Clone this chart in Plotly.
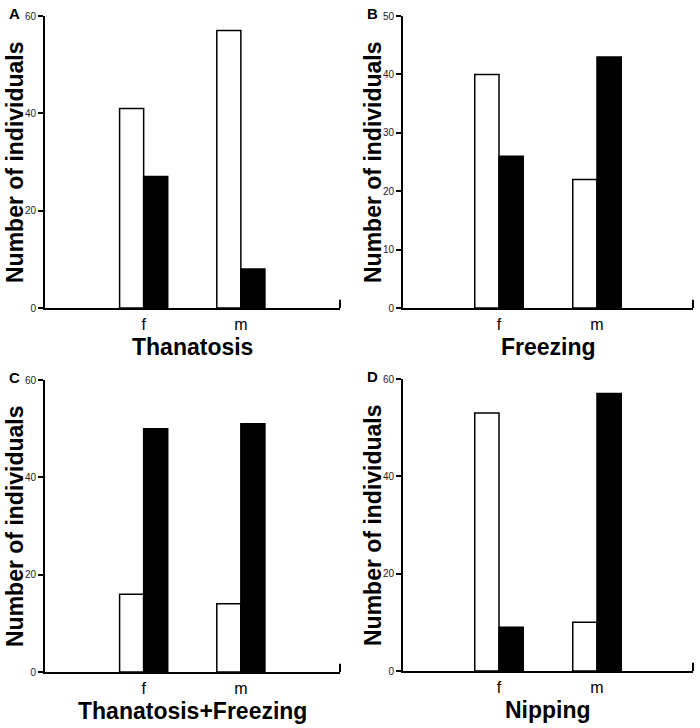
import plotly.graph_objects as go

categories = ["f", "m"]
panel_letters = ["A", "B", "C", "D"]
panel_titles = ["Thanatosis", "Freezing", "Thanatosis+Freezing", "Nipping"]
white_values = [[41, 57], [40, 22], [16, 14], [53, 10]]
black_values = [[27, 8], [26, 43], [50, 51], [9, 57]]
y_max = [60, 50, 60, 60]
y_dtick = [20, 10, 20, 20]

# body margin is removed below, so the figure fills the whole window
W, H = 700, 728
FONT = "Liberation Sans, Arial, sans-serif"


def px(x):
    return x / W


def py(y):
    return 1 - y / H


# window-pixel layout of each panel: (left, right, top, bottom) of plot area
boxes = [(45, 340, 16, 308), (403, 693, 16, 308),
         (45, 340, 380, 672), (403, 693, 379, 671)]
xranges = [[-1.015, 2.02], [-0.98, 1.98], [-1.015, 2.02], [-0.98, 1.98]]

fig = go.Figure()
annotations = []
shapes = []
for i in range(4):
    n = "" if i == 0 else str(i + 1)
    xa, ya = "x" + n, "y" + n
    l, r, t, b = boxes[i]
    fig.add_trace(go.Bar(x=categories, y=white_values[i], xaxis=xa, yaxis=ya,
                         marker=dict(color="white", line=dict(color="black", width=1.5)),
                         showlegend=False))
    fig.add_trace(go.Bar(x=categories, y=black_values[i], xaxis=xa, yaxis=ya,
                         marker=dict(color="black", line=dict(color="black", width=1.5)),
                         showlegend=False))
    fig.layout["xaxis" + n] = dict(
        domain=[px(l), px(r)], anchor=ya, range=xranges[i], automargin=False,
        showline=True, linecolor="black", linewidth=2, ticks="",
        showgrid=False, zeroline=False, ticklabelstandoff=1,
        tickfont=dict(family=FONT, size=16, color="black"))
    fig.layout["yaxis" + n] = dict(
        domain=[py(b), py(t)], anchor=xa, range=[0, y_max[i]], automargin=False,
        dtick=y_dtick[i], showline=True, linecolor="black", linewidth=2,
        ticks="outside", ticklen=5, tickwidth=1.5, tickcolor="black",
        showgrid=False, zeroline=False,
        tickfont=dict(family=FONT, size=10, color="#222"))
    # small upturn at the right end of x axis
    shapes.append(dict(type="line", xref=xa + " domain", yref=ya + " domain",
                       x0=1, x1=1, y0=0, y1=0.028,
                       line=dict(color="black", width=2)))
    # panel letter
    annotations.append(dict(text="<b>" + panel_letters[i] + "</b>", xref="paper", yref="paper",
                            x=px(l - 38), y=py(t - 3), xanchor="left", yanchor="middle",
                            showarrow=False, font=dict(family=FONT, size=15, color="black")))
    # x title
    annotations.append(dict(text="<b>" + panel_titles[i] + "</b>", xref="paper", yref="paper",
                            x=px((l + r) / 2), y=py(b + 39), xanchor="center", yanchor="middle",
                            showarrow=False, font=dict(family=FONT, size=23, color="black")))
    # y title
    annotations.append(dict(text="<b>Number of individuals</b>", xref="paper", yref="paper",
                            x=px(l - 30), y=py((t + b) / 2), xanchor="center", yanchor="middle",
                            textangle=-90, showarrow=False,
                            font=dict(family=FONT, size=23, color="black")))

fig.update_layout(width=W, height=H, margin=dict(l=0, r=0, t=0, b=0),
                  plot_bgcolor="white", paper_bgcolor="white",
                  barmode="group", bargap=0.505, bargroupgap=0,
                  annotations=annotations, shapes=shapes)
fig.write_html("out.html", config={"displayModeBar": False},
               post_script="document.body.style.margin='0';document.body.style.overflow='hidden';")
